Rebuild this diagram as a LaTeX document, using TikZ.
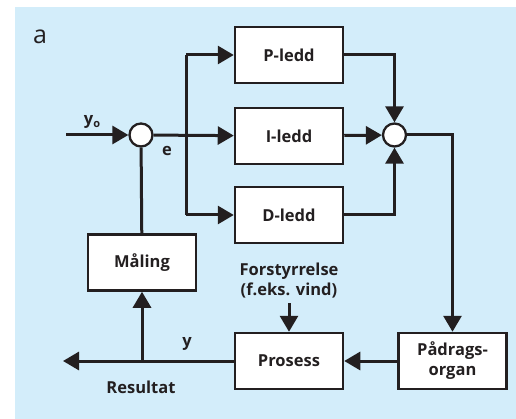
\documentclass[tikz,border=0pt]{standalone}
\usepackage{fontspec}
\setmainfont{Open Sans}
\usetikzlibrary{arrows.meta}
\definecolor{bgblue}{RGB}{211,237,250}
\definecolor{ink}{RGB}{35,31,32}
\begin{document}
\begin{tikzpicture}[x=1pt,y=-1pt,
  blk/.style={draw=ink,fill=white,line width=2.5pt,minimum width=108pt,minimum height=56pt,inner sep=0pt,font=\bfseries\fontsize{16.5}{20}\selectfont,align=center,text=ink},
  sumc/.style={draw=ink,fill=white,line width=2.3pt,circle,minimum size=23pt,inner sep=0pt},
  lbl/.style={font=\bfseries\fontsize{16.5}{20}\selectfont,text=ink,align=center,inner sep=0pt},
  ln/.style={draw=ink,line width=3pt},
  arr/.style={ln,-{Triangle[length=16pt,width=18pt]}}]
\useasboundingbox (0,0) rectangle (516,419);
\fill[bgblue] (15,7) rectangle (516,419);
\node[font=\fontsize{25}{30}\selectfont,text=ink,inner sep=0pt] (a) at (40,37) {a};
% blocks
\node[blk] (P) at (289,55) {P-ledd};
\node[blk] (I) at (289,136) {I-ledd};
\node[blk] (D) at (289,215) {D-ledd};
\node[blk] (M) at (142,262.5) {Måling};
\node[blk] (Pr) at (289,361) {Prosess};
\node[blk] (Pa) at (452.5,361) {Pådrags-\\organ};
\node[sumc] (s1) at (141,135) {};
\node[sumc] (s2) at (394.5,135) {};
% labels
\node[lbl] (yo) at (92,122) {y\raisebox{-0.35ex}{\fontsize{11}{12}\selectfont o}};
\node[lbl] (e) at (167,151) {e};
\node[lbl] (F) at (289,281) {Forstyrrelse\\(f.eks. vind)};
\node[lbl] (y) at (187,344) {y};
\node[lbl] (R) at (141,387) {Resultat};
\coordinate (in) at (66,135);
\coordinate (br) at (186,135);
\coordinate (out) at (63,361);
\coordinate (fs) at (289,303);
% connectors
\draw[arr] (in) -- (s1);
\draw[arr] (s1) -- (I);
\draw[arr] (P.west -| br) -- (P.west);
\draw[arr] (D.west -| br) -- (D.west);
\draw[ln] (P.west -| br) -- (D.west -| br);
\draw[arr] (P.east) -| (s2);
\draw[arr] (I) -- (s2);
\draw[arr] (D.east) -| (s2);
\draw[arr] (s2) -| (Pa);
\draw[arr] (Pa) -- (Pr);
\draw[arr] (fs) -- (Pr);
\draw[arr] (Pr) -- (out);
\draw[arr] (out -| M) -- (M);
\draw[ln] (M) -- (s1);
\end{tikzpicture}
\end{document}
